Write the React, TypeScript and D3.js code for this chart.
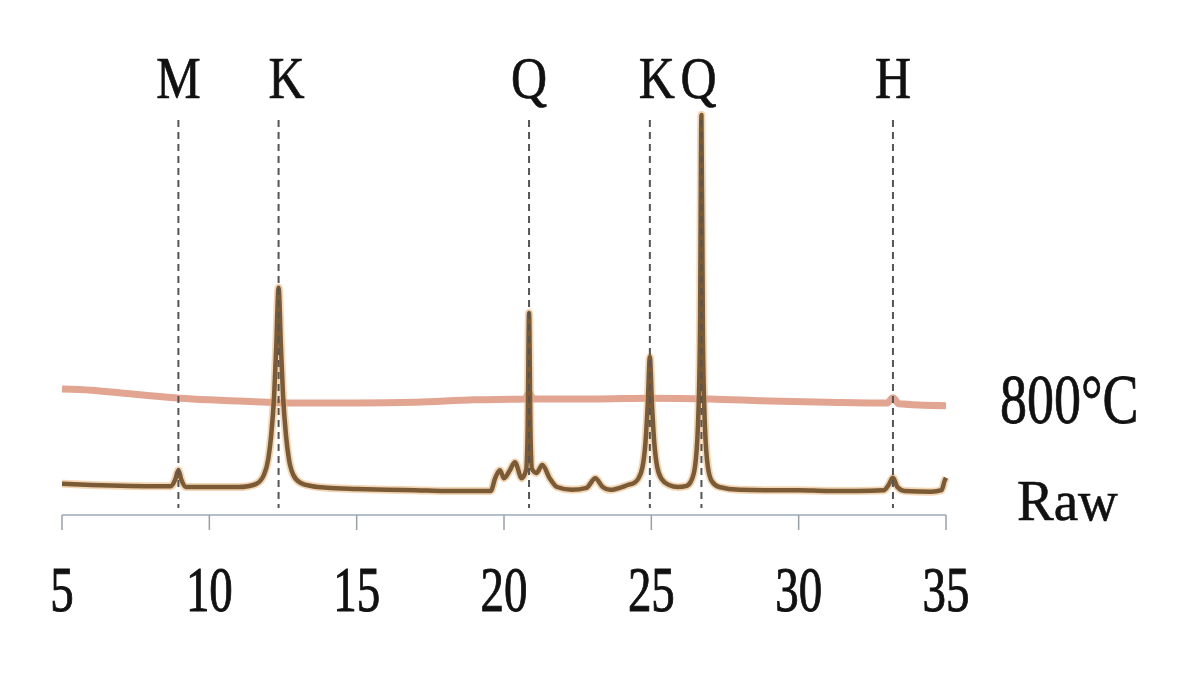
import React from "react";
import * as d3 from "d3";

const W = 1200;
const H = 699;

// 2θ (degrees) and relative intensity (arbitrary units)
const rawTheta = [5, 6, 7, 8, 8.7, 8.85, 8.95, 9.05, 9.2, 10, 11, 11.3, 11.6, 11.85, 12.0, 12.1, 12.2, 12.27, 12.35, 12.43, 12.5, 12.6, 12.7, 12.85, 13.1, 13.5, 14, 15, 16, 17, 18, 19, 19.55, 19.7, 19.86, 20.0, 20.2, 20.37, 20.6, 20.75, 20.8, 20.85, 20.9, 20.95, 21.1, 21.3, 21.55, 21.8, 22.3, 22.8, 23.1, 23.35, 23.6, 24.2, 24.45, 24.55, 24.7, 24.8, 24.88, 24.95, 25.02, 25.1, 25.2, 25.35, 25.6, 25.9, 26.2, 26.35, 26.48, 26.58, 26.65, 26.7, 26.75, 26.82, 26.92, 27.05, 27.3, 28, 29, 30, 31, 32, 32.9, 33.05, 33.2, 33.35, 33.6, 34.5, 34.85, 34.95, 35];
const rawI = [7.8, 7.5, 7.3, 7.2, 7.2, 9.0, 11.2, 8.8, 7.0, 7.0, 7.0, 7.2, 7.8, 10, 14, 20, 30, 42, 56.8, 42, 30, 20, 14, 10, 8, 7.2, 6.8, 6.5, 6.3, 6.2, 6.0, 6.0, 6.0, 9.2, 11.2, 9.2, 11.2, 13.2, 9.2, 11.2, 20, 50.5, 20, 11.5, 10.5, 12.5, 9.2, 7.0, 6.3, 6.8, 9.2, 7.0, 6.3, 7.5, 8.2, 9, 12, 18, 28, 39.5, 28, 18, 12, 9, 7.5, 7.0, 7.3, 8.5, 12, 22, 45, 100, 45, 22, 12, 8.5, 7.0, 6.3, 6.2, 6.2, 6.0, 6.0, 6.2, 7.5, 9.3, 7.0, 6.0, 5.8, 6.2, 8.5, 9.3];

const hotTheta = [5, 6, 7, 8, 9, 10, 11, 12, 13, 15, 17, 19, 20.7, 20.85, 21.0, 23, 25, 27, 29, 31, 33, 33.2, 33.4, 35];
const hotI = [31.5, 31.2, 30.5, 29.8, 29.2, 28.8, 28.5, 28.2, 28, 28, 28.2, 28.8, 29, 30.5, 29, 29, 29.2, 29, 28.5, 28.2, 28, 29.3, 27.8, 27.3];

const xTicks = [5, 10, 15, 20, 25, 30, 35];
const phaseLabels = ["M", "K", "Q", "K", "Q", "H"];
const phaseTheta = [8.95, 12.35, 20.85, 24.95, 26.7, 33.2];
const seriesNames = ["800°C", "Raw"];

const x = d3.scaleLinear().domain([5, 35]).range([62, 946]);
const y = d3.scaleLinear().domain([0, 100]).range([515, 115]);

const line = d3
  .line<[number, number]>()
  .x((d) => x(d[0]))
  .y((d) => y(d[1]))
  .curve(d3.curveMonotoneX);

const rawPts: [number, number][] = rawTheta.map((t, i) => [t, rawI[i]]);
const hotPts: [number, number][] = hotTheta.map((t, i) => [t, hotI[i]]);

const font = "'Liberation Serif', 'Times New Roman', serif";
const labelShift = [0, 8, 0, 7, -3, 0];

export default function App() {
  return (
    <svg
      width={W}
      height={H}
      style={{ position: "absolute", left: 0, top: 0, background: "#fff" }}
    >
      {/* axis */}
      <line x1={x(5)} x2={x(35)} y1={515} y2={515} stroke="#b4bfcc" strokeWidth={2} />
      {xTicks.map((t) => (
        <g key={t}>
          <line x1={x(t)} x2={x(t)} y1={515} y2={530} stroke="#9aa0a8" strokeWidth={1.5} />
          <text
            transform={`translate(${x(t)},611) scale(1.02,1.4)`}
            textAnchor="middle"
            fontFamily={font}
            fontSize={46}
            fill="#111"
            stroke="#111"
            strokeWidth={0.7}
          >
            {t}
          </text>
        </g>
      ))}

      {/* 800°C trace */}
      <path d={line(hotPts) || ""} fill="none" stroke="#e2a592" strokeWidth={7} strokeLinejoin="round" />

      {/* raw trace */}
      <path d={line(rawPts) || ""} fill="none" stroke="#e9b57a" strokeWidth={8} strokeOpacity={0.55} strokeLinejoin="round" />
      <path d={line(rawPts) || ""} fill="none" stroke="#7a5b36" strokeWidth={4.5} strokeLinejoin="round" />

      {/* phase reference lines */}
      {phaseTheta.map((t, i) => (
        <g key={i}>
          <line
            x1={x(t)}
            x2={x(t)}
            y1={120}
            y2={508}
            stroke="#555"
            strokeWidth={2}
            strokeDasharray="7,5"
          />
          <text
            transform={`translate(${x(t) + labelShift[i]},98) scale(1,1.2)`}
            textAnchor="middle"
            fontFamily={font}
            fontSize={50}
            fill="#111"
            stroke="#111"
            strokeWidth={0.6}
          >
            {phaseLabels[i]}
          </text>
        </g>
      ))}

      {/* series labels */}
      <text
        transform="translate(1000,423) scale(1,1.29)"
        fontFamily={font}
        fontSize={54}
        fill="#111"
        stroke="#111"
        strokeWidth={0.6}
      >
        {seriesNames[0]}
      </text>
      <text
        transform="translate(1017,520) scale(1,1.05)"
        fontFamily={font}
        fontSize={55}
        fill="#111"
        stroke="#111"
        strokeWidth={0.6}
      >
        {seriesNames[1]}
      </text>
    </svg>
  );
}
